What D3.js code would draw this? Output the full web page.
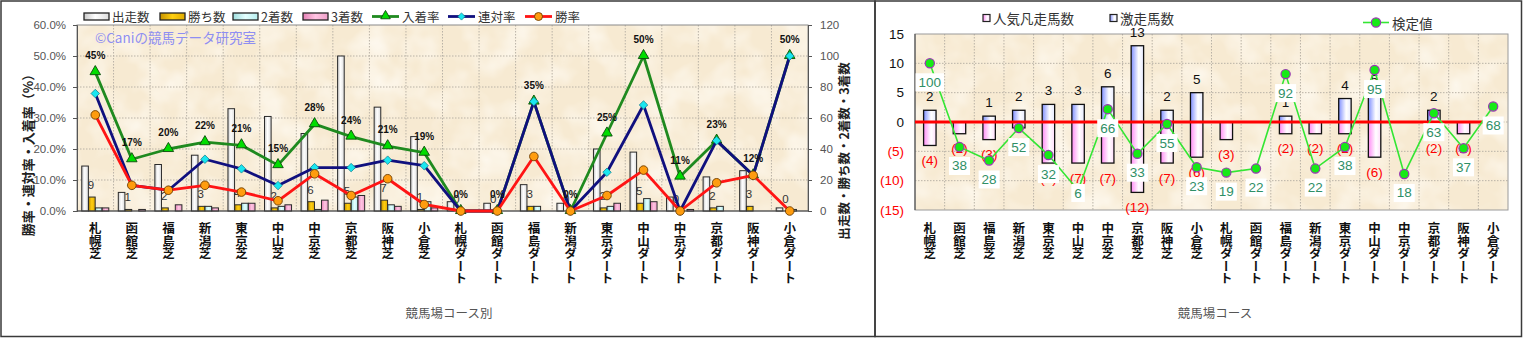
<!DOCTYPE html>
<html>
<head>
<meta charset="utf-8">
<script src="https://cdn.jsdelivr.net/npm/d3@7"></script>
<style>
  body { margin: 0; background: #fff; }
  svg text { font-family: "Noto Sans CJK JP", "Noto Sans", sans-serif; }
  .num { font-family: "Liberation Sans", Arial, sans-serif; }
</style>
</head>
<body>
<svg id="chart" width="1523" height="338"></svg>
<script>
// ---------- data ----------
const courses = ["札幌芝","函館芝","福島芝","新潟芝","東京芝","中山芝","中京芝","京都芝","阪神芝","小倉芝",
                 "札幌ダート","函館ダート","福島ダート","新潟ダート","東京ダート","中山ダート","中京ダート","京都ダート","阪神ダート","小倉ダート"];

// left panel: runners and placings per course
const starts  = [29, 12, 30, 36, 66, 61, 50, 100, 67, 48, 6, 5, 17, 5, 40, 38, 9, 22, 26, 2];
const wins    = [9, 1, 2, 3, 4, 2, 6, 5, 7, 1, 0, 0, 3, 0, 2, 5, 0, 2, 3, 0];
const seconds = [2, 0, 0, 3, 5, 3, 1, 9, 4, 6, 0, 0, 3, 0, 3, 8, 0, 3, 0, 1];
const thirds  = [2, 1, 4, 2, 5, 4, 7, 10, 3, 2, 0, 0, 0, 0, 5, 6, 1, 0, 0, 0];
// rates in percent
const winRate      = [31.0, 8.3, 6.7, 8.3, 6.1, 3.3, 12.0, 5.0, 10.4, 2.1, 0, 0, 17.6, 0, 5.0, 13.2, 0, 9.1, 11.5, 0];
const rentaiRate   = [37.9, 8.3, 6.7, 16.7, 13.6, 8.2, 14.0, 14.0, 16.4, 14.6, 0, 0, 35.3, 0, 12.5, 34.2, 0, 22.7, 11.5, 50.0];
const nyuchakuRate = [44.8, 16.7, 20.0, 22.2, 21.2, 14.8, 28.0, 24.0, 20.9, 18.8, 0, 0, 35.3, 0, 25.0, 50.0, 11.1, 22.7, 11.5, 50.0];
const rateTicks  = [0, 10, 20, 30, 40, 50, 60];
const countTicks = [0, 20, 40, 60, 80, 100, 120];

// right panel: surprise runners vs. beaten favourites, and test value
const gekisou     = [2, 0, 1, 2, 3, 3, 6, 13, 2, 5, 0, 0, 1, 0, 4, 5, 0, 2, 0, 0];
const ninkiBonsou = [4, 2, 3, 1, 7, 7, 7, 12, 7, 6, 3, 0, 2, 2, 2, 6, 0, 2, 2, 0];
const kentei      = [100, 38, 28, 52, 32, 6, 66, 33, 55, 23, 19, 22, 92, 22, 38, 95, 18, 63, 37, 68];
const diffTicks   = [15, 10, 5, 0, -5, -10, -15];
const kenteiRange = [-8.7, 121.7];

// ---------- setup ----------
const svg = d3.select("#chart");
const defs = svg.append("defs");
function hGrad(id, stops) {
  const g = defs.append("linearGradient").attr("id", id)
    .attr("x1", 0).attr("x2", 1).attr("y1", 0).attr("y2", 0);
  stops.forEach(([o, c]) => g.append("stop").attr("offset", o).attr("stop-color", c));
}
hGrad("gStart",  [[0, "#c9c9c9"], [0.45, "#ffffff"], [1, "#dcdcdc"]]);
hGrad("gWin",    [[0, "#c79300"], [0.5, "#ffcf10"], [1, "#e0aa00"]]);
hGrad("gSecond", [[0, "#9fdede"], [0.5, "#e4ffff"], [1, "#b6eeee"]]);
hGrad("gThird",  [[0, "#e47fb4"], [0.5, "#ffc4e2"], [1, "#ee9fc8"]]);
hGrad("gBlue",   [[0, "#7f8fff"], [0.6, "#ffffff"], [1, "#e6eaff"]]);
hGrad("gPink",   [[0, "#ff8cf5"], [0.6, "#ffffff"], [1, "#ffdcfb"]]);

// parchment texture for plot backgrounds
const paper = defs.append("filter").attr("id", "paper")
  .attr("x", 0).attr("y", 0).attr("width", "100%").attr("height", "100%");
paper.append("feTurbulence").attr("type", "fractalNoise").attr("baseFrequency", 0.028)
  .attr("numOctaves", 3).attr("seed", 7).attr("result", "n");
paper.append("feColorMatrix").attr("in", "n").attr("type", "matrix")
  .attr("values", "0 0 0 0 1  0 0 0 0 0.975  0 0 0 0 0.92  1.6 0 0 0 -0.62");

const paperFill = "#f7ead2";
const gridColor = "#b9b2a6";

function plotBackground(g, box) {
  g.append("rect").attr("x", box.x0).attr("y", box.y0).attr("width", box.x1 - box.x0).attr("height", box.y1 - box.y0)
    .attr("fill", paperFill);
  g.append("rect").attr("x", box.x0).attr("y", box.y0).attr("width", box.x1 - box.x0).attr("height", box.y1 - box.y0)
    .attr("fill", "#fff").attr("filter", "url(#paper)");
}

// outer frames
svg.append("rect").attr("x", 1).attr("y", 1).attr("width", 874).attr("height", 335.5)
  .attr("fill", "none").attr("stroke", "#3a3a3a").attr("stroke-width", 1.5);
svg.append("rect").attr("x", 875).attr("y", 1).attr("width", 646.5).attr("height", 335.5)
  .attr("fill", "none").attr("stroke", "#3a3a3a").attr("stroke-width", 1.5);

// ================= LEFT PANEL =================
const L = { x0: 77, x1: 808, y0: 25, y1: 211 };
const xL = d3.scaleBand().domain(courses).range([L.x0, L.x1]);
const bwL = xL.bandwidth();
const yRate = d3.scaleLinear().domain([0, 60]).range([L.y1, L.y0]);
const yCount = d3.scaleLinear().domain([0, 120]).range([L.y1, L.y0]);
const seriesKeys = ["starts", "wins", "seconds", "thirds"];
const sub = d3.scaleBand().domain(seriesKeys).range([bwL * 0.13, bwL * 0.87]).paddingInner(0.03);
const barSeries = [
  { key: "starts",  values: starts,  fill: "url(#gStart)",  name: "出走数" },
  { key: "wins",    values: wins,    fill: "url(#gWin)",    name: "勝ち数" },
  { key: "seconds", values: seconds, fill: "url(#gSecond)", name: "2着数" },
  { key: "thirds",  values: thirds,  fill: "url(#gThird)",  name: "3着数" }
];
const lineSeries = [
  { values: nyuchakuRate, color: "#1f8a1f", name: "入着率", marker: "tri" },
  { values: rentaiRate,   color: "#10107e", name: "連対率", marker: "dia" },
  { values: winRate,      color: "#ff1414", name: "勝率",   marker: "dot" }
];

const left = svg.append("g");
plotBackground(left, L);

// grid
left.append("g").selectAll("line").data(rateTicks.filter(t => t > 0 && t < 60)).join("line")
  .attr("x1", L.x0).attr("x2", L.x1).attr("y1", d => yRate(d)).attr("y2", d => yRate(d))
  .attr("stroke", gridColor).attr("stroke-dasharray", "1.5,1.5");
left.append("g").selectAll("line").data(courses.slice(1)).join("line")
  .attr("x1", d => xL(d)).attr("x2", d => xL(d)).attr("y1", L.y0).attr("y2", L.y1)
  .attr("stroke", gridColor).attr("stroke-dasharray", "1.5,1.5");
left.append("rect").attr("x", L.x0).attr("y", L.y0).attr("width", L.x1 - L.x0).attr("height", L.y1 - L.y0)
  .attr("fill", "none").attr("stroke", "#8a8a8a");

// watermark
left.append("text").attr("x", 95).attr("y", 43).attr("font-size", 13.5).attr("fill", "#8e8ef2")
  .text("©Caniの競馬データ研究室");

// bars
barSeries.forEach(s => {
  left.append("g").selectAll("rect").data(courses).join("rect")
    .attr("x", (c) => xL(c) + sub(s.key))
    .attr("width", sub.bandwidth())
    .attr("y", (c, i) => yCount(s.values[i]))
    .attr("height", (c, i) => yCount(0) - yCount(s.values[i]))
    .attr("fill", s.fill)
    .attr("stroke", "#2a2a2a").attr("stroke-width", 1)
    .attr("display", (c, i) => s.values[i] > 0 ? null : "none");
});

// win count labels
left.append("g").selectAll("text").data(courses).join("text")
  .attr("class", "num")
  .attr("x", c => xL(c) + sub("wins") + 2.5)
  .attr("y", (c, i) => yCount(wins[i]) - 8)
  .attr("text-anchor", "middle").attr("font-size", 11.5).attr("fill", "#333")
  .text((c, i) => wins[i]);

// axes
const axL = left.append("g").attr("transform", `translate(${L.x0},0)`)
  .call(d3.axisLeft(yRate).tickValues(rateTicks).tickFormat(d => d.toFixed(1) + "%").tickSize(4).tickPadding(7));
const axR = left.append("g").attr("transform", `translate(${L.x1},0)`)
  .call(d3.axisRight(yCount).tickValues(countTicks).tickSize(4).tickPadding(8));
[axL, axR].forEach(a => {
  a.selectAll("path,line").attr("stroke", "#555");
  a.selectAll("text").attr("class", "num").attr("font-size", 11.5).attr("fill", "#555");
});
left.append("line").attr("x1", L.x0).attr("x2", L.x1).attr("y1", L.y1).attr("y2", L.y1)
  .attr("stroke", "#444").attr("stroke-width", 1.2);

// rate lines and markers
const cx = c => xL(c) + bwL / 2;
lineSeries.forEach(s => {
  const line = d3.line().x((d, i) => cx(courses[i])).y(d => yRate(d));
  left.append("path").datum(s.values).attr("d", line)
    .attr("fill", "none").attr("stroke", s.color).attr("stroke-width", 2.8).attr("stroke-linejoin", "round");
  const g = left.append("g");
  if (s.marker === "tri") {
    g.selectAll("path").data(s.values).join("path")
      .attr("d", d3.symbol(d3.symbolTriangle, 48))
      .attr("transform", (d, i) => `translate(${cx(courses[i])},${yRate(d) - 0.5})`)
      .attr("fill", "#00dd00").attr("stroke", "#0b4a0b").attr("stroke-width", 0.9);
  } else if (s.marker === "dia") {
    g.selectAll("path").data(s.values).join("path")
      .attr("d", d3.symbol(d3.symbolSquare, 36))
      .attr("transform", (d, i) => `translate(${cx(courses[i])},${yRate(d)}) rotate(45)`)
      .attr("fill", "#19e6f0").attr("stroke", "#107c8a").attr("stroke-width", 0.7);
  } else {
    g.selectAll("circle").data(s.values).join("circle")
      .attr("cx", (d, i) => cx(courses[i])).attr("cy", d => yRate(d)).attr("r", 4.3)
      .attr("fill", "#ff9c0e").attr("stroke", "#6e3d00").attr("stroke-width", 0.9);
  }
});

// placing-rate labels
left.append("g").selectAll("text").data(nyuchakuRate).join("text")
  .attr("class", "num")
  .attr("x", (d, i) => cx(courses[i])).attr("y", d => yRate(d) - 13)
  .attr("text-anchor", "middle").attr("font-size", 10).attr("font-weight", "bold").attr("fill", "#111")
  .text(d => Math.round(d) + "%");

// category labels (vertical)
left.append("g").selectAll("text").data(courses).join("text")
  .attr("x", c => cx(c)).attr("y", 222)
  .style("writing-mode", "vertical-rl")
  .attr("font-size", 12.5).attr("font-weight", "bold").attr("fill", "#111")
  .text(c => c);

// axis titles
left.append("text").attr("transform", "translate(27,152) rotate(-90)")
  .attr("text-anchor", "middle").attr("dominant-baseline", "central")
  .attr("font-size", 13).attr("font-weight", "bold").attr("fill", "#222")
  .text("勝率・連対率・入着率（%）");
left.append("text").attr("transform", "translate(843,151) rotate(-90)")
  .attr("text-anchor", "middle").attr("dominant-baseline", "central")
  .attr("font-size", 12.5).attr("font-weight", "bold").attr("fill", "#222")
  .text("出走数・勝ち数・2着数・3着数");
left.append("text").attr("x", 449).attr("y", 318).attr("text-anchor", "middle")
  .attr("font-size", 12.5).attr("fill", "#555").text("競馬場コース別");

// legend
const legX = [84, 160, 233, 303, 372, 448, 525];
const legY = 16.5;
barSeries.forEach((s, k) => {
  left.append("rect").attr("x", legX[k]).attr("y", legY - 3.5).attr("width", 25).attr("height", 7)
    .attr("fill", s.fill).attr("stroke", "#222").attr("stroke-width", 1.3);
  left.append("text").attr("x", legX[k] + 28).attr("y", legY).attr("dominant-baseline", "central")
    .attr("font-size", 12.5).attr("fill", "#333").text(s.name);
});
lineSeries.forEach((s, k) => {
  const x = legX[4 + k];
  left.append("line").attr("x1", x).attr("x2", x + 27).attr("y1", legY).attr("y2", legY)
    .attr("stroke", s.color).attr("stroke-width", 2.8);
  if (s.marker === "tri") {
    left.append("path").attr("d", d3.symbol(d3.symbolTriangle, 40))
      .attr("transform", `translate(${x + 13.5},${legY - 0.5})`)
      .attr("fill", "#00dd00").attr("stroke", "#0b4a0b").attr("stroke-width", 0.9);
  } else if (s.marker === "dia") {
    left.append("path").attr("d", d3.symbol(d3.symbolSquare, 26))
      .attr("transform", `translate(${x + 13.5},${legY}) rotate(45)`)
      .attr("fill", "#19e6f0").attr("stroke", "#107c8a").attr("stroke-width", 0.7);
  } else {
    left.append("circle").attr("cx", x + 13.5).attr("cy", legY).attr("r", 4)
      .attr("fill", "#ff9c0e").attr("stroke", "#6e3d00").attr("stroke-width", 0.9);
  }
  left.append("text").attr("x", x + 30).attr("y", legY).attr("dominant-baseline", "central")
    .attr("font-size", 12.5).attr("fill", "#333").text(s.name);
});

// ================= RIGHT PANEL =================
const R = { x0: 915, x1: 1508, y0: 34, y1: 210 };
const xR = d3.scaleBand().domain(courses).range([R.x0, R.x1]);
const bwR = xR.bandwidth();
const yDiff = d3.scaleLinear().domain([-15, 15]).range([R.y1, R.y0]);
const yK = d3.scaleLinear().domain(kenteiRange).range([R.y1, R.y0]);
const cxR = c => xR(c) + bwR / 2;
const barW = bwR * 0.42;

const right = svg.append("g");
plotBackground(right, R);
right.append("g").selectAll("line").data(diffTicks.filter(t => Math.abs(t) < 15)).join("line")
  .attr("x1", R.x0).attr("x2", R.x1).attr("y1", d => yDiff(d)).attr("y2", d => yDiff(d))
  .attr("stroke", gridColor).attr("stroke-dasharray", "1.5,1.5");
right.append("g").selectAll("line").data(courses.slice(1)).join("line")
  .attr("x1", d => xR(d)).attr("x2", d => xR(d)).attr("y1", R.y0).attr("y2", R.y1)
  .attr("stroke", gridColor).attr("stroke-dasharray", "1.5,1.5");
right.append("rect").attr("x", R.x0).attr("y", R.y0).attr("width", R.x1 - R.x0).attr("height", R.y1 - R.y0)
  .attr("fill", "none").attr("stroke", "#9a9a9a");
right.append("line").attr("x1", R.x0).attr("x2", R.x0).attr("y1", R.y0).attr("y2", R.y1)
  .attr("stroke", "#555").attr("stroke-width", 1.2);

// y labels
right.append("g").selectAll("text").data(diffTicks).join("text")
  .attr("class", "num")
  .attr("x", R.x0 - 11).attr("y", d => yDiff(d)).attr("dominant-baseline", "central")
  .attr("text-anchor", "end").attr("font-size", 13.5)
  .attr("fill", d => d < 0 ? "#ff0000" : "#111")
  .text(d => d < 0 ? `(${-d})` : d);

// bars
right.append("g").selectAll("rect").data(courses).join("rect")
  .attr("x", c => cxR(c) - barW / 2).attr("width", barW)
  .attr("y", (c, i) => yDiff(0)).attr("height", (c, i) => yDiff(-ninkiBonsou[i]) - yDiff(0))
  .attr("fill", "url(#gPink)").attr("stroke", "#111").attr("stroke-width", 1.3)
  .attr("display", (c, i) => ninkiBonsou[i] > 0 ? null : "none");
right.append("g").selectAll("rect").data(courses).join("rect")
  .attr("x", c => cxR(c) - barW / 2).attr("width", barW)
  .attr("y", (c, i) => yDiff(gekisou[i])).attr("height", (c, i) => yDiff(0) - yDiff(gekisou[i]))
  .attr("fill", "url(#gBlue)").attr("stroke", "#111").attr("stroke-width", 1.3)
  .attr("display", (c, i) => gekisou[i] > 0 ? null : "none");

// zero line
right.append("line").attr("x1", R.x0).attr("x2", cxR(courses[courses.length - 1]) - 7)
  .attr("y1", yDiff(0)).attr("y2", yDiff(0)).attr("stroke", "#ff0000").attr("stroke-width", 3);

// bar labels
right.append("g").selectAll("text").data(courses).join("text")
  .attr("class", "num")
  .attr("x", c => cxR(c)).attr("y", (c, i) => yDiff(gekisou[i]) - 9)
  .attr("text-anchor", "middle").attr("font-size", 13.5).attr("fill", "#111")
  .text((c, i) => gekisou[i] > 0 ? gekisou[i] : "");
right.append("g").selectAll("text").data(courses).join("text")
  .attr("class", "num")
  .attr("x", c => cxR(c)).attr("y", (c, i) => yDiff(-ninkiBonsou[i]) + 15)
  .attr("dominant-baseline", "central")
  .attr("text-anchor", "middle").attr("font-size", 13.5).attr("fill", "#ff0000")
  .text((c, i) => ninkiBonsou[i] > 0 ? `(${ninkiBonsou[i]})` : "");

// test value line
const kLine = d3.line().x((d, i) => cxR(courses[i])).y(d => yK(d));
right.append("path").datum(kentei).attr("d", kLine)
  .attr("fill", "none").attr("stroke", "#33e633").attr("stroke-width", 1.6);
right.append("g").selectAll("circle").data(kentei).join("circle")
  .attr("cx", (d, i) => cxR(courses[i])).attr("cy", d => yK(d)).attr("r", 4.6)
  .attr("fill", "#16ea16").attr("stroke", "#9b36b5").attr("stroke-width", 1.2);
const kLabels = right.append("g").selectAll("g").data(kentei).join("g")
  .attr("transform", (d, i) => `translate(${cxR(courses[i])},${Math.min(yK(d) + 19, R.y1 - 17)})`);
kLabels.append("rect").attr("class", "bx").attr("fill", "#fff");
kLabels.append("text").attr("class", "num")
  .attr("text-anchor", "middle").attr("dominant-baseline", "central")
  .attr("font-size", 13.5).attr("fill", "#2f8f66").text(d => d);
kLabels.each(function () {
  const t = d3.select(this).select("text").node();
  const w = t.getComputedTextLength();
  d3.select(this).select("rect").attr("x", -w / 2 - 3).attr("y", -9).attr("width", w + 6).attr("height", 18);
});

// category labels
right.append("g").selectAll("text").data(courses).join("text")
  .attr("x", c => cxR(c)).attr("y", 222)
  .style("writing-mode", "vertical-rl")
  .attr("font-size", 12.5).attr("font-weight", "bold").attr("fill", "#111")
  .text(c => c);
right.append("text").attr("x", 1215).attr("y", 318).attr("text-anchor", "middle")
  .attr("font-size", 12.5).attr("fill", "#555").text("競馬場コース");

// legends
const rLegY = 18;
[{ name: "人気凡走馬数", fill: "url(#gPink)", x: 983 }, { name: "激走馬数", fill: "url(#gBlue)", x: 1110 }]
  .forEach(s => {
    right.append("rect").attr("x", s.x).attr("y", rLegY - 3.5).attr("width", 7).attr("height", 7)
      .attr("fill", s.fill).attr("stroke", "#222").attr("stroke-width", 1.2);
    right.append("text").attr("x", s.x + 10).attr("y", rLegY).attr("dominant-baseline", "central")
      .attr("font-size", 13.5).attr("fill", "#333").text(s.name);
  });
const kLegY = 22.5;
right.append("line").attr("x1", 1363).attr("x2", 1389).attr("y1", kLegY).attr("y2", kLegY)
  .attr("stroke", "#33e633").attr("stroke-width", 1.6);
right.append("circle").attr("cx", 1376).attr("cy", kLegY).attr("r", 4.6)
  .attr("fill", "#16ea16").attr("stroke", "#9b36b5").attr("stroke-width", 1.2);
right.append("text").attr("x", 1392).attr("y", kLegY).attr("dominant-baseline", "central")
  .attr("font-size", 13.5).attr("fill", "#333").text("検定値");
</script>
</body>
</html>
